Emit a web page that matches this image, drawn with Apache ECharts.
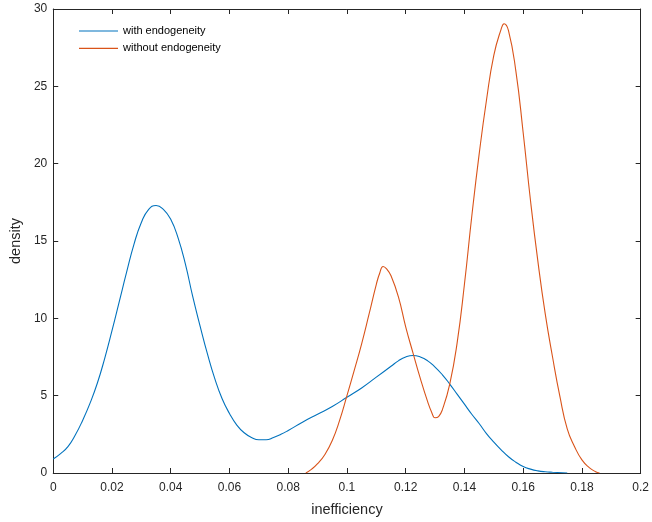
<!DOCTYPE html>
<html>
<head>
<meta charset="utf-8">
<script src="https://cdn.jsdelivr.net/npm/echarts@6/dist/echarts.min.js"></script>
<style>html,body{margin:0;padding:0;background:#fff}#c{width:652px;height:522px}</style>
</head>
<body>
<div id="c"></div>
<script>
// Data
var seriesNames = ['with endogeneity', 'without endogeneity'];
var withX = [0, 0.0025, 0.005, 0.0075, 0.01, 0.0125, 0.015, 0.0175, 0.02, 0.0225, 0.025, 0.0275, 0.03, 0.0325, 0.035, 0.0375, 0.04, 0.0425, 0.045, 0.0475, 0.05, 0.0525, 0.055, 0.0575, 0.06, 0.0625, 0.065, 0.0675, 0.07, 0.0725, 0.075, 0.0775, 0.08, 0.085, 0.09, 0.095, 0.1, 0.105, 0.11, 0.115, 0.1175, 0.12, 0.1225, 0.125, 0.1275, 0.13, 0.1325, 0.135, 0.1375, 0.14, 0.1425, 0.145, 0.1475, 0.15, 0.1525, 0.155, 0.1575, 0.16, 0.1625, 0.165, 0.1675, 0.17, 0.175];
var withY = [0.9, 1.25, 1.7, 2.45, 3.4, 4.5, 5.8, 7.4, 9.2, 11.1, 13.0, 14.8, 16.2, 17.05, 17.3, 17.05, 16.4, 15.2, 13.5, 11.4, 9.5, 7.7, 6.1, 4.8, 3.85, 3.1, 2.6, 2.3, 2.15, 2.15, 2.3, 2.5, 2.75, 3.3, 3.8, 4.3, 4.9, 5.5, 6.2, 6.9, 7.25, 7.5, 7.6, 7.5, 7.25, 6.85, 6.35, 5.75, 5.1, 4.45, 3.8, 3.2, 2.55, 2.0, 1.5, 1.05, 0.7, 0.42, 0.25, 0.14, 0.08, 0.05, 0.0];
var withoutX = [0.086, 0.088, 0.09, 0.0925, 0.095, 0.0975, 0.1, 0.1025, 0.105, 0.1075, 0.11, 0.1112, 0.1123, 0.1135, 0.115, 0.1175, 0.12, 0.1225, 0.125, 0.1275, 0.1288, 0.13, 0.1312, 0.1325, 0.135, 0.1375, 0.14, 0.1425, 0.145, 0.1475, 0.15, 0.1525, 0.1535, 0.155, 0.1575, 0.16, 0.1625, 0.165, 0.1675, 0.17, 0.1725, 0.175, 0.1775, 0.18, 0.1825, 0.1845, 0.186];
var withoutY = [0.0, 0.25, 0.6, 1.2, 2.1, 3.4, 5.0, 6.65, 8.35, 10.25, 12.2, 12.95, 13.35, 13.2, 12.75, 11.4, 9.45, 7.75, 6.1, 4.6, 3.95, 3.57, 3.65, 4.1, 5.75, 8.4, 12.2, 16.6, 20.6, 24.1, 27.0, 28.7, 29.05, 28.6, 26.0, 22.0, 17.6, 13.7, 10.3, 7.5, 4.95, 2.85, 1.7, 0.85, 0.35, 0.1, 0.0];
var xTicks = [0, 0.02, 0.04, 0.06, 0.08, 0.1, 0.12, 0.14, 0.16, 0.18, 0.2];
var yTicks = [0, 5, 10, 15, 20, 25, 30];

function pairs(xs, ys) { return xs.map(function (x, i) { return [x, ys[i]]; }); }

var font = "'Liberation Sans', Arial, Helvetica, sans-serif";
var axisColor = '#262626';
var chart = echarts.init(document.getElementById('c'), null, { renderer: 'canvas' });

var baseAxis = {
  axisLine: { show: true, onZero: false, lineStyle: { color: axisColor, width: 1 } },
  axisTick: { show: true, inside: true, length: 5, lineStyle: { color: axisColor } },
  splitLine: { show: false }
};

chart.setOption({
  animation: false,
  backgroundColor: '#ffffff',
  grid: { left: 48, right: 10, top: 9, bottom: 44, containLabel: false },
  legend: {
    data: seriesNames,
    orient: 'vertical',
    left: 74,
    top: 20,
    icon: 'rect',
    itemWidth: 39,
    itemHeight: 1.2,
    itemGap: 5.3,
    textStyle: { fontFamily: font, fontSize: 11, color: '#000', lineHeight: 12 }
  },
  xAxis: [
    Object.assign({}, baseAxis, {
      type: 'value', min: xTicks[0], max: xTicks[xTicks.length - 1], interval: 0.02,
      position: 'bottom',
      name: 'inefficiency', nameLocation: 'middle', nameGap: 29,
      nameTextStyle: { fontFamily: font, fontSize: 14.5, color: axisColor },
      axisLabel: { fontFamily: font, fontSize: 12, color: axisColor, margin: 9,
        formatter: function (v) { return String(Math.round(v * 100) / 100); } }
    }),
    Object.assign({}, baseAxis, {
      type: 'value', min: xTicks[0], max: xTicks[xTicks.length - 1], interval: 0.02,
      position: 'top', axisLabel: { show: false }
    })
  ],
  yAxis: [
    Object.assign({}, baseAxis, {
      type: 'value', min: yTicks[0], max: yTicks[yTicks.length - 1], interval: 5,
      position: 'left',
      name: 'density', nameLocation: 'middle', nameGap: 28,
      nameTextStyle: { fontFamily: font, fontSize: 14.5, color: axisColor },
      axisLabel: { fontFamily: font, fontSize: 12, color: axisColor, margin: 6 }
    }),
    Object.assign({}, baseAxis, {
      type: 'value', min: yTicks[0], max: yTicks[yTicks.length - 1], interval: 5,
      position: 'right', axisLabel: { show: false }
    })
  ],
  series: [
    {
      name: seriesNames[0], type: 'line', data: pairs(withX, withY),
      smooth: 0.5, symbol: 'none', xAxisIndex: 0, yAxisIndex: 0,
      lineStyle: { color: '#0072BD', width: 1.1 }, itemStyle: { color: '#0072BD' }
    },
    {
      name: seriesNames[1], type: 'line', data: pairs(withoutX, withoutY),
      smooth: 0.5, symbol: 'none', xAxisIndex: 0, yAxisIndex: 0,
      lineStyle: { color: '#D95319', width: 1.1 }, itemStyle: { color: '#D95319' }
    }
  ]
});
</script>
</body>
</html>
